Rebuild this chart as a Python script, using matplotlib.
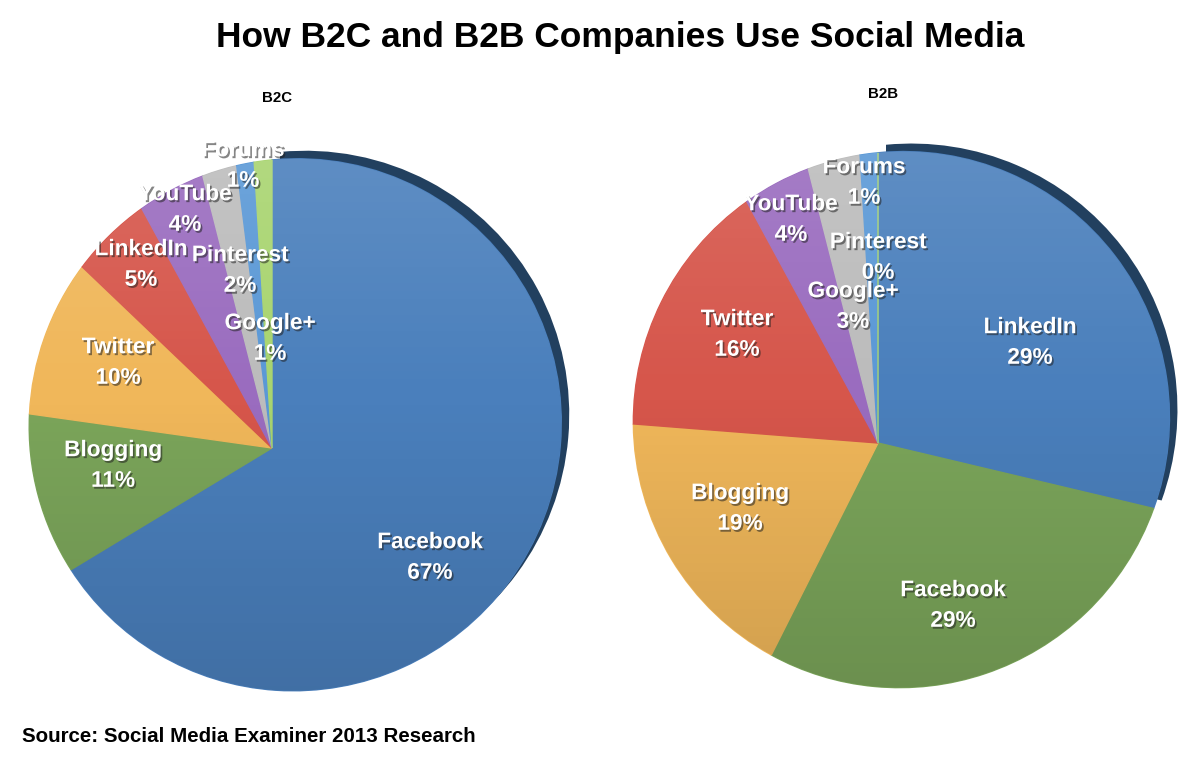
import numpy as np
import matplotlib
matplotlib.use('Agg')
import matplotlib.pyplot as plt
import matplotlib.patches as mpatches
import matplotlib.transforms as mtransforms
import matplotlib.patheffects as pe

TITLE = 'How B2C and B2B Companies Use Social Media'
SOURCE = 'Source: Social Media Examiner 2013 Research'

B2C_LABELS = ['Facebook', 'Blogging', 'Twitter', 'LinkedIn', 'YouTube', 'Pinterest', 'Google+', 'Forums']
B2C_SHARE = [67, 11, 10, 5, 4, 2, 1, 1]

B2B_LABELS = ['LinkedIn', 'Facebook', 'Blogging', 'Twitter', 'YouTube', 'Google+', 'Forums', 'Pinterest']
B2B_SHARE = [29, 29, 19, 16, 4, 3, 1, 0]

# colours go by rank, not by network
COLORS = ['#4a7fbc', '#7ba55a', '#f0b75a', '#d6564b', '#9a6cbf', '#bcbcbc', '#5a98d6', '#a8d46f']
SHADOW = '#22405f'

# label block centres, in pixels (x right, y down)
B2C_POS = [(430, 557), (113, 465), (118, 362), (141, 264), (185, 209), (240, 270), (270, 338), (243, 165)]
B2B_POS = [(1030, 342), (953, 605), (740, 508), (737, 334), (791, 219), (853, 306), (864, 182), (878, 257)]


class Tilt(mtransforms.Transform):
    """Unit-circle pie -> pixels, with a slight perspective (pie leans back to the upper right)."""
    input_dims = output_dims = 2
    is_separable = False
    has_inverse = False

    def __init__(self, cx, cy, size, k=0.123, phi=45):
        super().__init__()
        self.cx, self.cy, self.size, self.k = cx, cy, size, k
        self.phi = np.radians(phi)

    def transform_non_affine(self, values):
        v = np.asarray(values, float)
        x, y = v[:, 0], v[:, 1]
        w = 1 - self.k * (x * np.cos(self.phi) + y * np.sin(self.phi))
        return np.column_stack([self.cx + self.size * x / w, self.cy - self.size * y / w])


fig = plt.figure(figsize=(12, 7.59), dpi=100)
ax = fig.add_axes([0, 0, 1, 1])

# vertical sheen: light at top, darker at bottom
grad = np.zeros((256, 1, 4))
t = np.linspace(0, 1, 256)
grad[:, 0, :3] = np.where(t < 0.45, 1.0, 0.0)[:, None]
grad[:, 0, 3] = np.where(t < 0.45, 0.12 * (0.45 - t) / 0.45, 0.13 * (t - 0.45) / 0.55)

text_fx = [pe.withSimplePatchShadow(offset=(1.2, -1.4), shadow_rgbFace='#222222', alpha=0.55)]

pies = [
    ('B2C', B2C_LABELS, B2C_SHARE, B2C_POS, (272, 448, 263), (277, 98)),
    ('B2B', B2B_LABELS, B2B_SHARE, B2B_POS, (878, 443, 265), (883, 94)),
]

for name, labels, shares, positions, (cx, cy, size), head in pies:
    H = Tilt(cx, cy, size)
    wedges, _ = ax.pie(shares, colors=COLORS, startangle=90, counterclock=False)
    for w in wedges:
        w.set_transform(H + ax.transData)
        w.set_edgecolor(w.get_facecolor())
        w.set_linewidth(1.0)
        w.set_zorder(2)

    # dark rim behind the top slice
    top = wedges[0]
    rim = mpatches.Wedge((0, 0), 1, top.theta1, top.theta2, facecolor=SHADOW, edgecolor='none', zorder=1)
    rim.set_transform(H + mtransforms.Affine2D().translate(8, -8) + ax.transData)
    ax.add_patch(rim)

    disk = mpatches.Circle((0, 0), 1, transform=H + ax.transData)
    im = ax.imshow(grad, extent=(cx - 300, cx + 320, cy + 250, cy - 300),
                   aspect='auto', zorder=3, interpolation='bilinear')
    im.set_clip_path(disk)

    for lab, val, (x, y) in zip(labels, shares, positions):
        ax.text(x, y, f'{lab}\n{val}%', ha='center', va='center', color='white',
                fontsize=16.3, fontweight='bold', family='Liberation Sans',
                linespacing=1.42, zorder=5, path_effects=text_fx)

    ax.text(head[0], head[1], name, ha='center', va='center', fontsize=10.8,
            fontweight='bold', family='Liberation Sans', zorder=5)

ax.text(620, 37, TITLE, ha='center', va='center', fontsize=25.5,
        fontweight='bold', family='Liberation Sans')
ax.text(22, 737, SOURCE, ha='left', va='center', fontsize=14.8,
        fontweight='bold', family='Liberation Sans')

ax.set_xlim(0, 1200)
ax.set_ylim(759, 0)
ax.set_aspect('auto')
ax.axis('off')

fig.savefig('out.png', dpi=100)
